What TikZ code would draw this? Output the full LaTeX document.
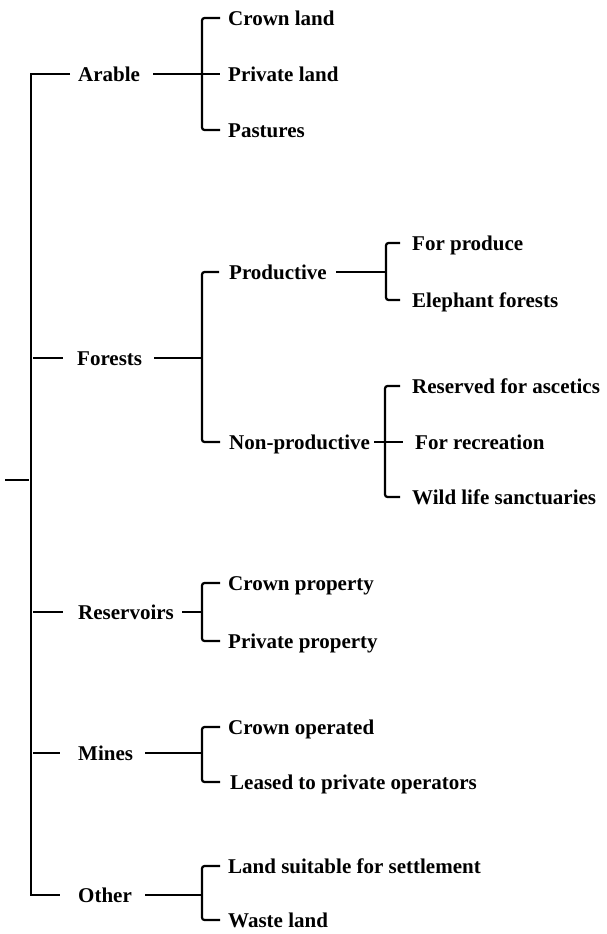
\documentclass[tikz,border=0pt]{standalone}
\usepackage{fontspec}
\setmainfont{Liberation Serif}
\begin{document}
\begin{tikzpicture}[x=1pt,y=-1pt,
  lbl/.style={anchor=base west,inner sep=0pt,font=\fontsize{21}{21}\selectfont\bfseries},
  ln/.style={line width=2pt},
  brk/.style={line width=2.2pt,rounded corners=2.5pt}]
\useasboundingbox (0,0) rectangle (606,934);
% level 1 labels
\node[lbl] (arable) at (78,81.5) {Arable};
\node[lbl] (forests) at (77,365.5) {Forests};
\node[lbl] (reservoirs) at (78,619.5) {Reservoirs};
\node[lbl] (mines) at (78,760.5) {Mines};
\node[lbl] (other) at (78,902.5) {Other};
% level 2 labels
\node[lbl] (crownland) at (228,25.5) {Crown land};
\node[lbl] (privateland) at (228,81.5) {Private land};
\node[lbl] (pastures) at (228,137.5) {Pastures};
\node[lbl] (productive) at (229,279.5) {Productive};
\node[lbl] (nonproductive) at (229,449.5) {Non-productive};
\node[lbl] (crownprop) at (228,590.5) {Crown property};
\node[lbl] (privateprop) at (228,648.5) {Private property};
\node[lbl] (crownop) at (228,734.5) {Crown operated};
\node[lbl] (leased) at (230,789.5) {Leased to private operators};
\node[lbl] (settle) at (228,873.5) {Land suitable for settlement};
\node[lbl] (waste) at (228,927.5) {Waste land};
% level 3 labels
\node[lbl] (produce) at (412,250.5) {For produce};
\node[lbl] (elephant) at (412,307.5) {Elephant forests};
\node[lbl] (ascetics) at (412,393.5) {Reserved for ascetics};
\node[lbl] (recreation) at (415,449.5) {For recreation};
\node[lbl] (wildlife) at (412,504.5) {Wild life sanctuaries};
% joints
\coordinate (root) at (5,480);
\coordinate (mainx) at (31,480);
\coordinate (jA) at (202,74);
\coordinate (jF) at (202,358);
\coordinate (jP) at (386,272);
\coordinate (jN) at (385,442);
\coordinate (jR) at (202,612);
\coordinate (jM) at (202,753);
\coordinate (jO) at (202,895);
% root and main spine
\draw[ln] (root) -- ([xshift=-2pt]mainx);
\draw[ln] ([xshift=-8pt]arable.west |- jA) -- (31,74) -- (31,895) -- (60,895);
\draw[ln] (33,358) -- (63,358);
\draw[ln] (33,612) -- (63,612);
\draw[ln] (33,753) -- (60,753);
% Arable
\draw[ln] ([xshift=13pt]arable.east |- jA) -- (jA);
\draw[brk] ([xshift=-8pt]crownland.west |- 0,18) -- (202,18) -- (202,130) -- ([xshift=-8pt]pastures.west |- 0,130);
\draw[ln] (jA) -- ([xshift=-8pt]privateland.west |- jA);
% Forests
\draw[ln] ([xshift=12pt]forests.east |- jF) -- (jF);
\draw[brk] ([xshift=-10pt]productive.west |- 0,272) -- (202,272) -- (202,442) -- ([xshift=-9pt]nonproductive.west |- 0,442);
% Productive
\draw[ln] ([xshift=9pt]productive.east |- jP) -- (jP);
\draw[brk] ([xshift=-12pt]produce.west |- 0,243) -- (386,243) -- (386,300) -- ([xshift=-12pt]elephant.west |- 0,300);
% Non-productive
\draw[brk] ([xshift=-12pt]ascetics.west |- 0,386) -- (385,386) -- (385,497) -- ([xshift=-12pt]wildlife.west |- 0,497);
\draw[ln] ([xshift=4pt]nonproductive.east |- jN) -- ([xshift=-12pt]recreation.west |- jN);
% Reservoirs
\draw[ln] ([xshift=8pt]reservoirs.east |- jR) -- (jR);
\draw[brk] ([xshift=-8pt]crownprop.west |- 0,583) -- (202,583) -- (202,641) -- ([xshift=-8pt]privateprop.west |- 0,641);
% Mines
\draw[ln] ([xshift=12pt]mines.east |- jM) -- (jM);
\draw[brk] ([xshift=-8pt]crownop.west |- 0,727) -- (202,727) -- (202,782) -- ([xshift=-10pt]leased.west |- 0,782);
% Other
\draw[ln] ([xshift=13pt]other.east |- jO) -- (jO);
\draw[brk] ([xshift=-8pt]settle.west |- 0,866) -- (202,866) -- (202,920) -- ([xshift=-8pt]waste.west |- 0,920);
\end{tikzpicture}
\end{document}
